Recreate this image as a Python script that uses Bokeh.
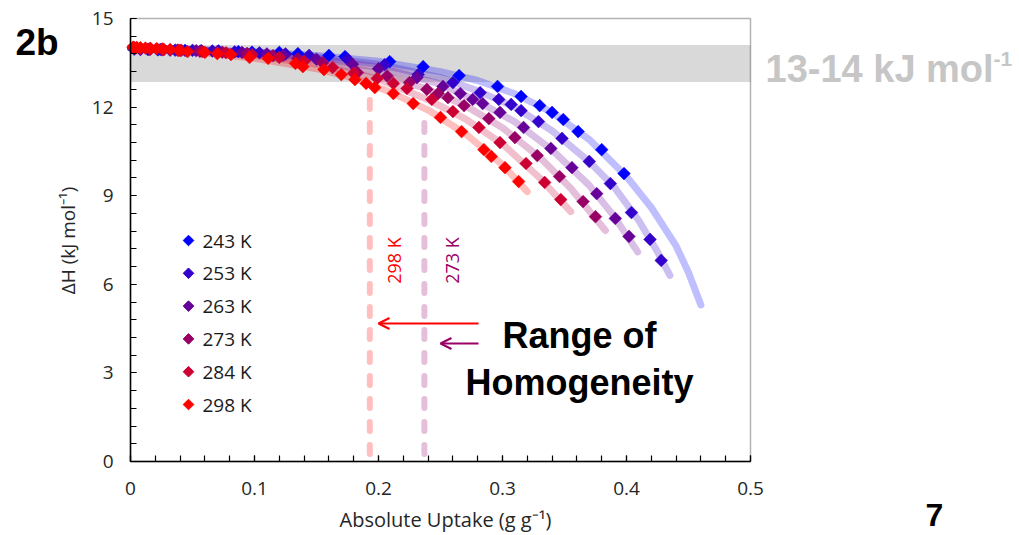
import math
from bokeh.plotting import figure
from bokeh.models import (Range1d, BoxAnnotation, Label, Arrow, OpenHead,
                          SingleIntervalTicker, CustomJSTickFormatter)
from bokeh.embed import file_html
from bokeh.resources import INLINE

# ---------------- data ----------------
temps = ["243 K", "253 K", "263 K", "273 K", "284 K", "298 K"]
colors = ["#0000FF", "#3300CC", "#660099", "#990066", "#CC0033", "#FF0000"]

x243 = [0.003, 0.008, 0.014, 0.022, 0.032, 0.044, 0.057, 0.071, 0.087, 0.098, 0.120, 0.135,
        0.160, 0.173, 0.209, 0.236, 0.265, 0.296, 0.315, 0.330, 0.340, 0.349, 0.361, 0.380, 0.398]
y243 = [13.96, 13.95, 13.95, 13.94, 13.93, 13.92, 13.91, 13.90, 13.88, 13.86, 13.85, 13.81,
        13.75, 13.71, 13.54, 13.37, 13.07, 12.70, 12.36, 12.05, 11.82, 11.58, 11.17, 10.56, 9.75]

x253 = [0.003, 0.008, 0.015, 0.024, 0.036, 0.050, 0.066, 0.084, 0.104, 0.125, 0.144, 0.175, 0.205,
        0.232, 0.260, 0.282, 0.297, 0.307, 0.315, 0.329, 0.348, 0.370, 0.387, 0.404, 0.419, 0.428]
y253 = [13.98, 13.97, 13.96, 13.95, 13.93, 13.92, 13.90, 13.87, 13.84, 13.80, 13.75, 13.62, 13.44,
        13.10, 12.83, 12.49, 12.26, 12.09, 11.88, 11.51, 10.94, 10.16, 9.41, 8.43, 7.52, 6.81]

x263 = [0.003, 0.008, 0.015, 0.025, 0.038, 0.053, 0.070, 0.090, 0.110, 0.123, 0.150, 0.179, 0.200,
        0.231, 0.252, 0.266, 0.276, 0.284, 0.298, 0.317, 0.339, 0.356, 0.376, 0.391, 0.402]
y263 = [13.99, 13.97, 13.96, 13.95, 13.93, 13.91, 13.88, 13.85, 13.80, 13.75, 13.62, 13.45, 13.30,
        13.00, 12.70, 12.46, 12.26, 12.12, 11.82, 11.31, 10.60, 9.95, 9.07, 8.23, 7.62]

x273 = [0.003, 0.008, 0.016, 0.026, 0.040, 0.056, 0.074, 0.094, 0.115, 0.135, 0.155, 0.183, 0.207,
        0.225, 0.239, 0.248, 0.256, 0.269, 0.289, 0.310, 0.328, 0.346, 0.365, 0.375]
y273 = [14.00, 13.98, 13.96, 13.94, 13.92, 13.89, 13.86, 13.82, 13.74, 13.64, 13.50, 13.17, 13.05,
        12.83, 12.60, 12.46, 12.32, 12.05, 11.61, 10.97, 10.36, 9.65, 8.80, 8.29]

x284 = [0.003, 0.008, 0.016, 0.027, 0.041, 0.058, 0.077, 0.098, 0.120, 0.140, 0.163, 0.180, 0.199,
        0.212, 0.223, 0.243, 0.260, 0.281, 0.298, 0.319, 0.334, 0.347]
y284 = [14.01, 13.99, 13.97, 13.95, 13.92, 13.88, 13.84, 13.78, 13.68, 13.55, 13.34, 13.15, 12.97,
        12.80, 12.63, 12.26, 11.85, 11.31, 10.80, 10.09, 9.45, 8.87]

x298 = [0.002, 0.005, 0.008, 0.012, 0.016, 0.021, 0.026, 0.032, 0.039, 0.046, 0.060, 0.070, 0.081,
        0.096, 0.111, 0.133, 0.139, 0.156, 0.170, 0.181, 0.190, 0.197, 0.212, 0.228, 0.250, 0.267,
        0.285, 0.291, 0.302, 0.313]
y298 = [14.03, 14.02, 14.01, 14.00, 13.99, 13.98, 13.97, 13.95, 13.92, 13.88, 13.85, 13.81, 13.78,
        13.68, 13.65, 13.48, 13.37, 13.27, 13.10, 12.93, 12.80, 12.66, 12.46, 12.12, 11.65, 11.17,
        10.56, 10.33, 9.95, 9.48]

# fitted curves
fit243_x = [0, 0.05, 0.10, 0.15, 0.20, 0.25, 0.28, 0.31, 0.34, 0.37, 0.40, 0.42, 0.44, 0.45, 0.46]
fit243_y = [14.0, 13.95, 13.87, 13.75, 13.55, 13.2, 12.9, 12.45, 11.82, 10.9, 9.65, 8.6, 7.3, 6.4, 5.3]
fit253_x = [0, 0.05, 0.10, 0.15, 0.20, 0.25, 0.28, 0.31, 0.34, 0.37, 0.39, 0.41, 0.425, 0.435]
fit253_y = [14.0, 13.95, 13.85, 13.7, 13.45, 13.0, 12.55, 12.0, 11.2, 10.15, 9.3, 8.15, 7.1, 6.3]
fit263_x = [0, 0.05, 0.10, 0.15, 0.20, 0.25, 0.28, 0.31, 0.34, 0.37, 0.39, 0.409]
fit263_y = [14.0, 13.94, 13.83, 13.65, 13.35, 12.78, 12.2, 11.5, 10.55, 9.35, 8.3, 7.1]
fit273_x = [0, 0.05, 0.10, 0.15, 0.20, 0.24, 0.27, 0.30, 0.33, 0.355, 0.383]
fit273_y = [14.02, 13.93, 13.8, 13.55, 13.15, 12.6, 12.05, 11.3, 10.3, 9.25, 7.82]
fit284_x = [0, 0.05, 0.10, 0.15, 0.20, 0.24, 0.27, 0.30, 0.33, 0.355]
fit284_y = [14.02, 13.92, 13.75, 13.45, 12.95, 12.25, 11.6, 10.75, 9.6, 8.46]
fit298_x = [0, 0.05, 0.10, 0.15, 0.18, 0.21, 0.24, 0.27, 0.30, 0.32]
fit298_y = [14.03, 13.88, 13.65, 13.3, 12.98, 12.5, 11.9, 11.1, 10.05, 9.14]

x_min, x_max = 0.0, 0.5
y_min, y_max = 0.0, 15.0
band_low, band_high = 12.85, 14.1          # 13-14 kJ/mol band
homog_labels = ["298 K", "273 K"]
homog_x = [0.193, 0.237]                    # range-of-homogeneity limits
homog_top = [12.45, 11.65]
homog_bottom = [0.25, 0.25]
homog_colors = ["#FF0000", "#990066"]

series_x = [x243, x253, x263, x273, x284, x298]
series_y = [y243, y253, y263, y273, y284, y298]
fits_x = [fit243_x, fit253_x, fit263_x, fit273_x, fit284_x, fit298_x]
fits_y = [fit243_y, fit253_y, fit263_y, fit273_y, fit284_y, fit298_y]

# ---------------- layout helpers (canvas px -> data) ----------------
W, H = 1019, 535
FL, FR, FT, FB = 130, 750, 18, 461          # plot box on the canvas
def X(px):
    return x_min + (px - FL) * (x_max - x_min) / (FR - FL)
def Y(py):
    return y_max - (py - FT) * (y_max - y_min) / (FB - FT)

# frame spans the whole canvas, axes are pinned at the plot box edges
p = figure(width=W, height=H, x_range=Range1d(X(0), X(W)), y_range=Range1d(Y(H), Y(0)),
           output_backend="svg", toolbar_location=None, min_border=0)
p.background_fill_color = "white"
p.border_fill_color = "white"
p.outline_line_color = None
p.xgrid.visible = False
p.ygrid.visible = False

p.xaxis.fixed_location = y_min
p.yaxis.fixed_location = x_min
p.xaxis.bounds = (x_min, x_max)
p.yaxis.bounds = (y_min, y_max)

for ax in (p.xaxis[0], p.yaxis[0]):
    ax.axis_line_color = "black"
    ax.axis_line_width = 1.5
    ax.major_tick_in = 6
    ax.major_tick_out = 0
    ax.minor_tick_in = 6
    ax.minor_tick_out = 0
    ax.major_tick_line_color = "black"
    ax.minor_tick_line_color = "black"
    ax.major_tick_line_width = 1.2
    ax.minor_tick_line_width = 1.2
    ax.major_label_text_font = "Open Sans"
    ax.major_label_text_font_size = "19px"
    ax.major_label_text_color = "#262626"

p.xaxis.ticker = SingleIntervalTicker(interval=0.1, num_minor_ticks=5)
p.yaxis.ticker = SingleIntervalTicker(interval=3, num_minor_ticks=5)
p.xaxis.formatter = CustomJSTickFormatter(code="return (Math.round(tick*10)/10).toString();")
p.xaxis.major_label_standoff = 20
p.yaxis.major_label_standoff = 17

# gray band
p.add_layout(BoxAnnotation(bottom=band_low, top=band_high, left=x_min, right=x_max,
                           fill_color="#D9D9D9", fill_alpha=1.0, line_alpha=0,
                           level="underlay"))
# plot box border (top and right spines)
p.add_layout(BoxAnnotation(bottom=y_min, top=y_max, left=x_min, right=x_max,
                           fill_alpha=0, line_color="black", line_width=1.5,
                           level="underlay"))

# fitted curves
for fx, fy, c in zip(fits_x, fits_y, colors):
    p.line(fx, fy, line_color=c, line_alpha=0.25, line_width=7, line_cap="round",
           line_join="round")

# homogeneity dashed lines
p.segment(x0=homog_x, y0=homog_bottom, x1=homog_x, y1=homog_top,
          line_color=homog_colors, line_alpha=0.25, line_width=6,
          line_dash="9 14", line_cap="round")

# data points
for sx, sy, c in zip(series_x, series_y, colors):
    p.scatter(sx, sy, marker="square", angle=math.pi / 4, size=9,
              fill_color=c, line_color=c, line_width=0.5)

def lab(px, py, text, size, color="black", font="Open Sans", bold=False, align="left",
        angle=0.0):
    p.add_layout(Label(x=X(px), y=Y(py), text=text, text_font=font,
                       text_font_style="bold" if bold else "normal",
                       text_font_size=size, text_color=color, text_align=align,
                       text_baseline="middle", angle=angle))

# legend (manual)
for i, (t, c) in enumerate(zip(temps, colors)):
    ly = 240 + 32.8 * i
    p.scatter([X(188)], [Y(ly)], marker="square", angle=math.pi / 4, size=7.5,
              fill_color=c, line_color=c)
    lab(202, ly, t, "19px", color="#1a1a1a")

# vertical labels for homogeneity lines
for lx, t, c in zip([393, 451], homog_labels, homog_colors):
    lab(lx, 260, t, "18px", color=c, align="center", angle=math.pi / 2)

# arrows
p.add_layout(Arrow(end=OpenHead(size=11, line_color="#FF0000", line_width=2),
                   x_start=X(478), y_start=Y(323), x_end=X(378), y_end=Y(323),
                   line_color="#FF0000", line_width=2))
p.add_layout(Arrow(end=OpenHead(size=11, line_color="#990066", line_width=2),
                   x_start=X(478), y_start=Y(343), x_end=X(440), y_end=Y(343),
                   line_color="#990066", line_width=2))

# big annotation texts
lab(579, 335, "Range of", "36px", font="Liberation Sans", bold=True, align="center")
lab(579, 382, "Homogeneity", "36px", font="Liberation Sans", bold=True, align="center")
lab(765, 68, "13-14 kJ mol", "38px", color="#C6C6C6", font="Liberation Sans", bold=True)
lab(993, 58, "-1", "21px", color="#C6C6C6", font="Liberation Sans", bold=True)
lab(15, 42, "2b", "37px", font="Liberation Sans", bold=True)
lab(934, 514, "7", "32px", font="Liberation Sans", bold=True, align="center")

# axis titles
lab(67, 240, "ΔH (kJ mol⁻¹)", "19px", color="#262626", align="center", angle=math.pi / 2)
lab(445, 519, "Absolute Uptake (g g⁻¹)", "20px", color="#262626", align="center")

open("out.html", "w").write(file_html(p, INLINE))
